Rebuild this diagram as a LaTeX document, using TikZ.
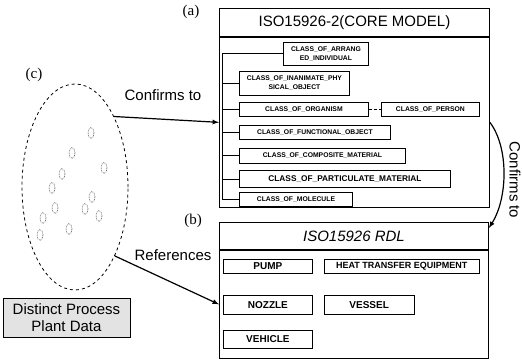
\documentclass[tikz,border=0pt]{standalone}
\usepackage{fontspec}
\setmainfont{Liberation Serif}
\setsansfont{Liberation Sans}
\usetikzlibrary{positioning,shapes.geometric}

\newcommand{\setsz}[2]{\fontsize{#1}{#2}\selectfont}

\begin{document}
\begin{tikzpicture}[x=1pt, y=1pt,
	panel/.style={draw, line width=0.9pt, inner sep=0pt, font=\sffamily\setsz{15}{17}},
	classbox/.style={draw, line width=0.9pt, inner sep=0pt, align=center, minimum height=14pt, font=\sffamily\bfseries\setsz{6.8}{8.5}},
	itembox/.style={draw, line width=0.8pt, inner sep=0pt, font=\sffamily\bfseries\setsz{10}{12}},
	datum/.style={ellipse, draw=black!65, densely dotted, line width=0.7pt, minimum width=6pt, minimum height=11pt, inner sep=0pt},
	tag/.style={font=\setsz{15}{17}},
	caption/.style={font=\sffamily\setsz{15}{17}},
	link/.style={line width=1.2pt, -latex}]
	\useasboundingbox (0,0) rectangle (522,-359);

	\node [panel, anchor=north west, minimum width=270pt, minimum height=28pt] (coretitle) at (219,-8) {ISO15926-2(CORE MODEL)};
	\node [panel, below=0pt of coretitle, minimum width=270pt, minimum height=170pt] (corebody) {};
	\node [classbox, below right=5pt and 64pt of corebody.north west, minimum width=85pt, minimum height=23pt] (c1) {CLASS\_OF\_ARRANG\\ED\_INDIVIDUAL};
	\node [classbox, below right=5pt and -44pt of c1.south west, minimum width=110pt, minimum height=24pt] (c2) {CLASS\_OF\_INANIMATE\_PHY\\SICAL\_OBJECT};
	\node [classbox, below right=6pt and 0pt of c2.south west, minimum width=129pt] (c3) {CLASS\_OF\_ORGANISM};
	\node [classbox, right=12pt of c3, minimum width=98pt] (c8) {CLASS\_OF\_PERSON};
	\node [classbox, below right=8pt and 0pt of c3.south west, minimum width=151pt] (c4) {CLASS\_OF\_FUNCTIONAL\_OBJECT};
	\node [classbox, below right=8pt and 0pt of c4.south west, minimum width=166pt, minimum height=15pt] (c5) {CLASS\_OF\_COMPOSITE\_MATERIAL};
	\node [classbox, below right=7pt and 0pt of c5.south west, minimum width=211pt, minimum height=17pt, font=\sffamily\bfseries\setsz{8.3}{10}] (c6) {CLASS\_OF\_PARTICULATE\_MATERIAL};
	\node [classbox, below right=4pt and 0pt of c6.south west, minimum width=113pt] (c7) {CLASS\_OF\_MOLECULE};
	\coordinate [right=3pt of corebody.west] (spine);

	\node [panel, anchor=north west, minimum width=269pt, minimum height=27pt, font=\sffamily\itshape\setsz{15}{17}] (rdltitle) at (219,-222) {ISO15926 RDL};
	\node [panel, below=0pt of rdltitle, minimum width=269pt, minimum height=108pt] (rdlbody) {};
	\node [itembox, below right=9pt and 4pt of rdlbody.north west, minimum width=89pt, minimum height=14pt] (pump) {PUMP};
	\node [itembox, right=11pt of pump, minimum width=155pt, minimum height=14pt, font=\sffamily\bfseries\setsz{9}{11}] (heat) {HEAT TRANSFER EQUIPMENT};
	\node [itembox, below=21pt of pump, minimum width=89pt, minimum height=19pt] (nozzle) {NOZZLE};
	\node [itembox, right=11pt of nozzle, minimum width=90pt, minimum height=19pt] (vessel) {VESSEL};
	\node [itembox, below=15pt of nozzle, minimum width=89pt, minimum height=18pt] (vehicle) {VEHICLE};

	\node [ellipse, draw, dashed, line width=0.8pt, minimum width=106pt, minimum height=206pt] (plant) at (75,-187) {};
	\foreach \x/\y [count=\i] in {91/133, 72/153, 104/168, 62/174, 52/188, 92/197, 55/208, 85/209, 99/216, 43/218, 69/229, 40/235}
		\node [datum] (d\i) at (\x,-\y) {};
	\node [draw, line width=0.8pt, fill=gray!22, align=center, minimum width=127pt, minimum height=39pt, inner sep=0pt, font=\sffamily\setsz{15}{16.5}] (distinct) at (66.5,-317.5) {Distinct Process\\Plant Data};

	\node [tag] (laba) at (191,-12) {(a)};
	\node [tag] (labb) at (193,-221) {(b)};
	\node [tag] (labc) at (34,-75) {(c)};
	\node [caption] (conf) at (163,-95) {Confirms to};
	\node [caption] (refs) at (173,-255) {References};
	\node [caption, rotate=-90] (conf2) at (515,-180) {Confirms to};

	\draw [line width=0.9pt] (spine |- c1.west) -- (spine |- c7.west);
	\foreach \c in {c1,c2,c3,c4,c5,c6,c7}
		\draw [line width=0.9pt] (spine |- \c.west) -- (\c.west);
	\draw [densely dashed, line width=0.5pt] (c3) -- (c8);

	\draw [link] (plant.61) -- (corebody.west);
	\draw [link] (plant.-60) -- (rdlbody.west);
	\draw [link] (corebody.east) .. controls +(19,-25) and +(19,30) .. ([yshift=-6pt]rdltitle.north east);

\end{tikzpicture}
\end{document}
